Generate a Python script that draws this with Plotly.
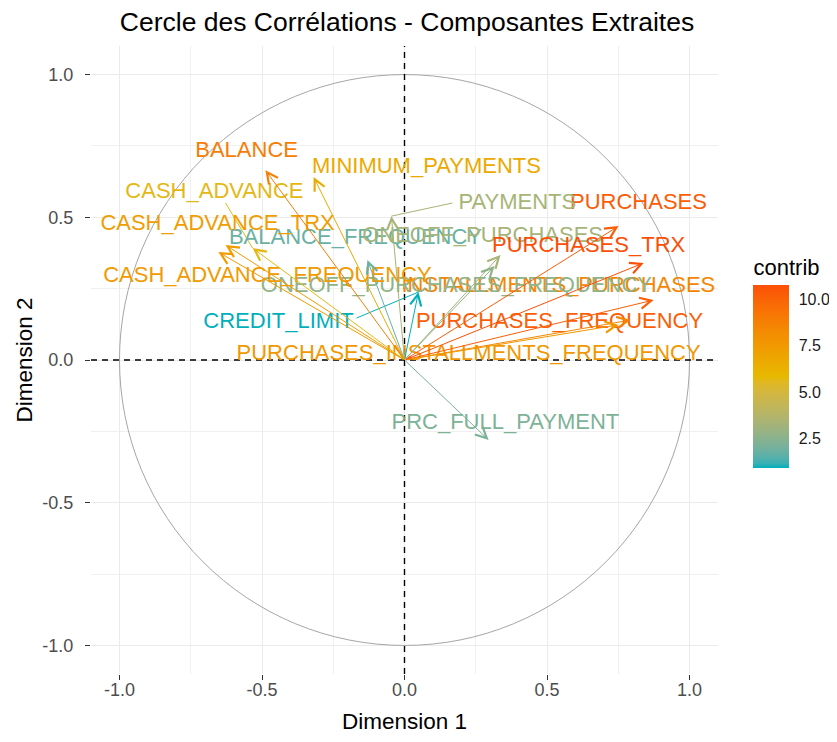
import plotly.graph_objects as go

# variable coordinates on the first two components (correlations) and contributions
VARIABLES = [
    "BALANCE", "BALANCE_FREQUENCY", "PURCHASES", "ONEOFF_PURCHASES",
    "INSTALLMENTS_PURCHASES", "CASH_ADVANCE", "PURCHASES_FREQUENCY",
    "ONEOFF_PURCHASES_FREQUENCY", "PURCHASES_INSTALLMENTS_FREQUENCY",
    "CASH_ADVANCE_FREQUENCY", "CASH_ADVANCE_TRX", "PURCHASES_TRX",
    "CREDIT_LIMIT", "PAYMENTS", "MINIMUM_PAYMENTS", "PRC_FULL_PAYMENT",
]
DIM1 = [-0.488, -0.130, 0.751, 0.337, 0.793, -0.533, 0.874, 0.316, 0.751,
        -0.653, -0.628, 0.839, 0.049, -0.046, -0.319, 0.295]
DIM2 = [0.665, 0.350, 0.469, 0.368, 0.140, 0.392, 0.210, 0.329, 0.123,
        0.378, 0.403, 0.340, 0.238, 0.504, 0.641, -0.280]
CONTRIB = [8.9, 1.8, 10.3, 3.3, 8.5, 5.7, 10.2, 2.7, 7.6,
           7.5, 7.3, 10.77, 0.92, 3.35, 6.7, 2.2]

# where the (repelled) labels ended up
LABEL_X = [-0.554, -0.172, 0.821, 0.274, 0.540, -0.667, 0.544, 0.182, 0.225,
           -0.481, -0.656, 0.646, -0.442, 0.396, 0.077, 0.354]
LABEL_Y = [0.729, 0.424, 0.550, 0.434, 0.256, 0.588, 0.133, 0.256, 0.018,
           0.294, 0.473, 0.399, 0.133, 0.550, 0.673, -0.224]
# label end of the repel segments (None = label sits on its arrow)
LINK_X = [None, None, None, None, None, -0.628, None, None, None,
          None, None, None, -0.168, 0.168, None, None]
LINK_Y = [None, None, None, None, None, 0.550, None, None, None,
          None, None, None, 0.147, 0.550, None, None]

AXIS_RANGE = [-1.1, 1.1]
GRADIENT_COLORS = ["#00AFBB", "#E7B800", "#FC4E07"]
CIRCLE_RADIUS = 1.0
FONT = "Liberation Sans, Arial, sans-serif"


# ggplot interpolates gradients in CIE Lab, so do the same here
def _hex_to_lab(hex_color):
    rgb = [int(hex_color[i:i + 2], 16) / 255 for i in (1, 3, 5)]
    r, g, b = [c / 12.92 if c <= 0.04045 else ((c + 0.055) / 1.055) ** 2.4 for c in rgb]
    x = (0.4124 * r + 0.3576 * g + 0.1805 * b) / 0.95047
    y = 0.2126 * r + 0.7152 * g + 0.0722 * b
    z = (0.0193 * r + 0.1192 * g + 0.9505 * b) / 1.08883

    def f(t):
        return t ** (1 / 3) if t > (6 / 29) ** 3 else t / (3 * (6 / 29) ** 2) + 4 / 29

    return 116 * f(y) - 16, 500 * (f(x) - f(y)), 200 * (f(y) - f(z))


def _lab_to_rgb(lab):
    l, a, b = lab
    fy = (l + 16) / 116
    fx = fy + a / 500
    fz = fy - b / 200

    def finv(t):
        return t ** 3 if t > 6 / 29 else 3 * (6 / 29) ** 2 * (t - 4 / 29)

    x, y, z = finv(fx) * 0.95047, finv(fy), finv(fz) * 1.08883
    r = 3.2406 * x - 1.5372 * y - 0.4986 * z
    g = -0.9689 * x + 1.8758 * y + 0.0415 * z
    bl = 0.0557 * x - 0.2040 * y + 1.0570 * z
    out = []
    for c in (r, g, bl):
        c = 12.92 * c if c <= 0.0031308 else 1.055 * c ** (1 / 2.4) - 0.055
        out.append(int(round(min(max(c, 0), 1) * 255)))
    return "rgb({},{},{})".format(*out)


LABS = [_hex_to_lab(c) for c in GRADIENT_COLORS]


def gradient_color(t):
    t = min(max(t, 0.0), 1.0)
    seg = 0 if t <= 0.5 else 1
    u = (t - 0.5 * seg) / 0.5
    lab = tuple(p + (q - p) * u for p, q in zip(LABS[seg], LABS[seg + 1]))
    return _lab_to_rgb(lab)


colorscale = [[k / 40, gradient_color(k / 40)] for k in range(41)]
cmin, cmax = min(CONTRIB), max(CONTRIB)
colors = [gradient_color((c - cmin) / (cmax - cmin)) for c in CONTRIB]

fig = go.Figure()

fig.add_shape(type="circle", xref="x", yref="y",
              x0=-CIRCLE_RADIUS, y0=-CIRCLE_RADIUS, x1=CIRCLE_RADIUS, y1=CIRCLE_RADIUS,
              line={"color": "#A6A6A6", "width": 1}, layer="between")
dashed = {"color": "#000000", "width": 1.4, "dash": "6px,5px"}
fig.add_shape(type="line", xref="x", yref="y", x0=AXIS_RANGE[0], x1=AXIS_RANGE[1],
              y0=0, y1=0, line=dashed, layer="between")
fig.add_shape(type="line", xref="x", yref="y", x0=0, x1=0,
              y0=AXIS_RANGE[0], y1=AXIS_RANGE[1], line=dashed, layer="between")

# repel segments
for i, name in enumerate(VARIABLES):
    if LINK_X[i] is None:
        continue
    fig.add_trace(go.Scatter(
        x=[LINK_X[i], DIM1[i]], y=[LINK_Y[i], DIM2[i]], mode="lines",
        line={"color": colors[i], "width": 1}, hoverinfo="skip", showlegend=False,
    ))

# arrows from the origin
for i, name in enumerate(VARIABLES):
    fig.add_annotation(
        x=DIM1[i], y=DIM2[i], ax=0, ay=0, xref="x", yref="y", axref="x", ayref="y",
        text="", showarrow=True, arrowhead=5, arrowsize=2.2, arrowwidth=1,
        arrowcolor=colors[i], standoff=0,
    )

fig.add_trace(go.Scatter(
    x=LABEL_X, y=LABEL_Y, mode="text", text=VARIABLES,
    textposition="middle center",
    textfont={"family": FONT, "size": 22, "color": colors},
    hoverinfo="skip", showlegend=False,
))

# invisible markers carrying the colour bar
fig.add_trace(go.Scatter(
    x=DIM1, y=DIM2, mode="markers", showlegend=False, hoverinfo="skip",
    marker={
        "size": 1, "opacity": 0, "color": CONTRIB, "colorscale": colorscale,
        "cmin": cmin, "cmax": cmax, "showscale": True,
        "colorbar": {
            "title": {"text": "contrib", "side": "top",
                      "font": {"family": FONT, "size": 22, "color": "#000000"}},
            "x": 1.0566, "xanchor": "left", "xpad": 0,
            "y": 0.4976, "yanchor": "middle", "ypad": 0,
            "len": 213, "lenmode": "pixels", "thickness": 36,
            "outlinewidth": 0,
            "tickvals": [2.5, 5.0, 7.5, 10.0],
            "ticktext": ["2.5", "5.0", "7.5", "10.0"],
            "ticks": "outside", "ticklen": 7, "tickcolor": "#FFFFFF",
            "tickfont": {"family": FONT, "size": 16, "color": "#1A1A1A"},
        },
    },
))

axis_common = {
    "range": AXIS_RANGE,
    "tickvals": [-1.0, -0.5, 0.0, 0.5, 1.0],
    "ticktext": ["-1.0", "-0.5", "0.0", "0.5", "1.0"],
    "showgrid": True, "gridcolor": "#EBEBEB", "gridwidth": 1.3,
    "minor": {"tickvals": [-0.75, -0.25, 0.25, 0.75], "showgrid": True,
              "gridcolor": "#F0F0F0", "gridwidth": 1},
    "zeroline": False, "showline": False,
    "ticks": "outside", "ticklen": 5, "tickcolor": "#333333", "tickwidth": 1.3,
    "tickfont": {"family": FONT, "size": 18, "color": "#4D4D4D"},
}

# the page body keeps an 8px margin, so the figure is sized to fit inside it
fig.update_layout(
    width=821, height=726,
    margin={"l": 83, "r": 111, "t": 38, "b": 60, "autoexpand": False},
    paper_bgcolor="#FFFFFF", plot_bgcolor="#FFFFFF",
    title={"text": "Cercle des Corrélations - Composantes Extraites",
           "x": 0.486, "xanchor": "center", "y": 0.981, "yanchor": "middle",
           "font": {"family": FONT, "size": 26.5, "color": "#000000"}},
    xaxis={**axis_common, "ticklabelstandoff": -6,
           "title": {"text": "Dimension 1", "standoff": 14,
                     "font": {"family": FONT, "size": 22.5, "color": "#000000"}}},
    yaxis={**axis_common, "ticklabelstandoff": 8,
           "title": {"text": "Dimension 2", "standoff": 3,
                     "font": {"family": FONT, "size": 22.5, "color": "#000000"}}},
    showlegend=False,
)

fig.write_html("out.html")
